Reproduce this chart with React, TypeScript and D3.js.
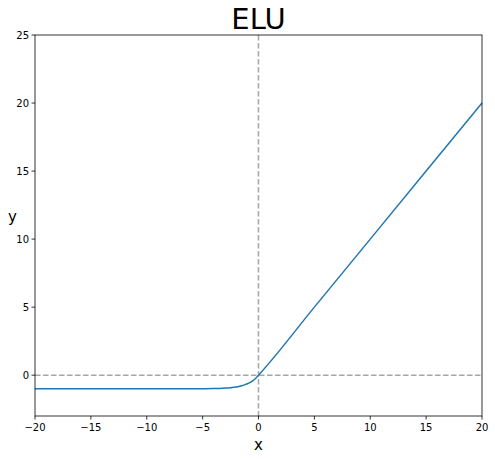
import React from "react";
import * as d3 from "d3";

const xValues = [-20, -15, -10, -7, -6, -5, -4, -3.5, -3, -2.5, -2, -1.75, -1.5, -1.25, -1, -0.75, -0.5, -0.25, 0, 5, 10, 15, 20];
const yValues = [-1, -1, -1, -0.999, -0.998, -0.993, -0.982, -0.97, -0.95, -0.918, -0.865, -0.826, -0.777, -0.713, -0.632, -0.528, -0.393, -0.221, 0, 5, 10, 15, 20];
const xTicks = [-20, -15, -10, -5, 0, 5, 10, 15, 20];
const yTicks = [0, 5, 10, 15, 20, 25];

export default function App() {
  const W = 495, H = 459;
  const left = 35, right = 482, top = 35, bottom = 416;
  const x = d3.scaleLinear().domain([-20, 20]).range([left, right]);
  const y = d3.scaleLinear().domain([-3, 25]).range([bottom, top]);
  const pts: [number, number][] = xValues.map((v, i) => [v, yValues[i]]);
  const line = d3.line<[number, number]>().x(d => x(d[0])).y(d => y(d[1])).curve(d3.curveMonotoneX);
  const font = "DejaVu Sans, sans-serif";
  return (
    <svg width={W} height={H} style={{ position: "absolute", left: 0, top: 0, background: "#fff" }} fontFamily={font}>
      <rect x={0} y={0} width={W} height={H} fill="#fff" />
      <line x1={left} x2={right} y1={y(0)} y2={y(0)} stroke="#a6a6a6" strokeWidth={1.5} strokeDasharray="5.5,2.5" />
      <line x1={x(0)} x2={x(0)} y1={top} y2={bottom} stroke="#a6a6a6" strokeWidth={1.5} strokeDasharray="5.5,2.5" />
      <path d={line(pts) || ""} fill="none" stroke="#1f77b4" strokeWidth={1.5} />
      <rect x={left} y={top} width={right - left} height={bottom - top} fill="none" stroke="#000" strokeWidth={0.8} />
      {xTicks.map(t => (
        <g key={"x" + t}>
          <line x1={x(t)} x2={x(t)} y1={bottom} y2={bottom + 3.5} stroke="#000" strokeWidth={0.8} />
          <text x={x(t)} y={bottom + 15} fontSize={10} textAnchor="middle">{t < 0 ? "\u2212" + Math.abs(t) : t}</text>
        </g>
      ))}
      {yTicks.map(t => (
        <g key={"y" + t}>
          <line x1={left - 3.5} x2={left} y1={y(t)} y2={y(t)} stroke="#000" strokeWidth={0.8} />
          <text x={left - 6} y={y(t) + 3.5} fontSize={10} textAnchor="end">{t}</text>
        </g>
      ))}
      <text x={(left + right) / 2} y={450} fontSize={15} textAnchor="middle">x</text>
      <text x={8} y={222} fontSize={15} textAnchor="start">y</text>
      <text x={(left + right) / 2} y={29} fontSize={29} textAnchor="middle">ELU</text>
    </svg>
  );
}
